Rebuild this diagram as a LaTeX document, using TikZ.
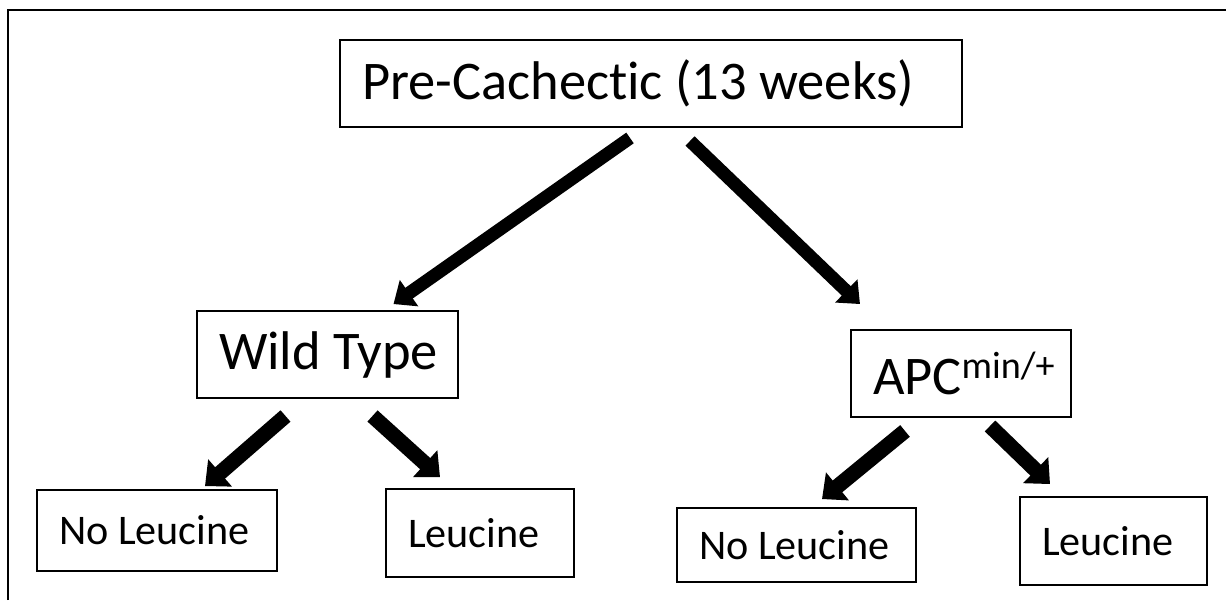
\documentclass[tikz,border=0pt]{standalone}
\usepackage{fontspec}
\setmainfont{Carlito}[Ligatures=NoCommon]
\usetikzlibrary{arrows.meta}

\begin{document}
\begin{tikzpicture}[x=0.02cm, y=-0.02cm, >={Triangle[length=0.38cm, width=0.62cm]},
	box/.style={draw, line width=1.1pt, inner xsep=0.44cm, inner ysep=0pt},
	big/.style={font=\fontsize{31}{37}\selectfont},
	small/.style={font=\fontsize{24}{29}\selectfont},
	fat/.style={->, line width=7.4pt},
	fatter/.style={->, line width=8.6pt, >={Triangle[length=0.4cm, width=0.7cm]}}]
	\useasboundingbox (0,0) rectangle (1226,600);
	\draw[line width=1.1pt] (8,600) -- (8,10) -- (1226,10);
	\node[box, big, minimum height=1.74cm] (top) at (651,83.5) {\makebox[11.56cm][l]{Pre-Cachectic (13 weeks)}};
	\node[box, big, minimum height=1.74cm] (wt) at (327.5,354.5) {\makebox[4.34cm][l]{Wild Type}};
	\node[box, big, minimum height=1.74cm] (apc) at (961,373.5) {\makebox[3.52cm][l]{APC\textsuperscript{min/+}}};
	\node[box, small, minimum height=1.62cm] (wtno) at (157,530.5) {\makebox[3.92cm][l]{No Leucine}};
	\node[box, small, minimum height=1.76cm] (wtleu) at (480,533) {\makebox[2.88cm][l]{Leucine}};
	\node[box, small, minimum height=1.48cm] (apcno) at (796.5,545) {\makebox[3.9cm][l]{No Leucine}};
	\node[box, small, minimum height=1.76cm] (apcleu) at (1113.5,541) {\makebox[2.86cm][l]{Leucine}};
	\draw[fat] ([shift={(-21,10)}]top.south) -- ([shift={(66,-6)}]wt.north);
	\draw[fat] ([shift={(39,13)}]top.south) -- ([shift={(-101,-25)}]apc.north);
	\draw[fatter] ([shift={(-42,17)}]wt.south) -- ([shift={(48,-3)}]wtno.north);
	\draw[fatter] ([shift={(45,17)}]wt.south) -- ([shift={(-40,-11)}]wtleu.north);
	\draw[fatter] ([shift={(-56,13)}]apc.south) -- ([shift={(25.5,-8)}]apcno.north);
	\draw[fatter] ([shift={(29,8)}]apc.south) -- ([shift={(-63.5,-12)}]apcleu.north);
\end{tikzpicture}
\end{document}
